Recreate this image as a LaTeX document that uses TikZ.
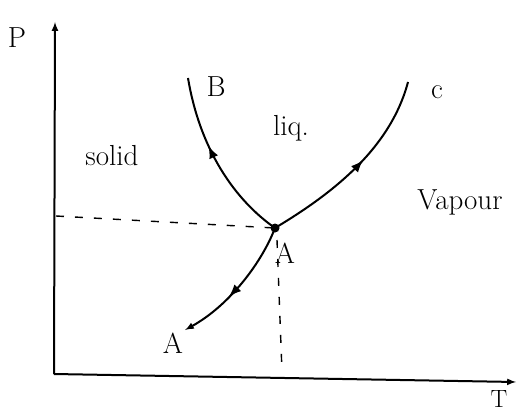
\documentclass[tikz,border=0pt]{standalone}
\usetikzlibrary{decorations.markings}
\begin{document}
\begin{tikzpicture}[x=1pt, y=-1pt, >=latex,
    axis/.style={line width=2pt},
    curve/.style={line width=2pt},
    guide/.style={line width=1.4pt, dash pattern=on 8pt off 11pt},
    midarrow/.style={postaction={decorate, decoration={markings,
        mark=at position #1 with {\arrow[scale=1.4]{latex}}}}},
    lbl/.style={font=\fontsize{29}{31}\selectfont}]
    \useasboundingbox (0,0) rectangle (532,417);

    % ==== AXES ====
    \coordinate (O) at (54,374);
    \coordinate (Ptop) at (55,22);
    \coordinate (Tend) at (516,382);
    \draw[->, axis] (O) -- (Ptop);
    \draw[->, axis] (O) -- (Tend);
    \node[lbl] (P) at (17,38) {P};
    \node[lbl, font=\fontsize{25}{27}\selectfont] (T) at (499,399) {T};

    % ==== TRIPLE POINT ====
    \coordinate (A) at (275,228);
    \fill (A) circle(4.5);
    \node[lbl] (Alab) at (285,253) {A};

    % ==== CURVES ====
    \coordinate (B) at (188,78);
    \coordinate (C) at (408,82);
    \coordinate (Alow) at (185,330);
    \draw[curve, midarrow=0.6] (A) .. controls (235,200) and (200,150) .. (B);
    \draw[curve, midarrow=0.55] (A) .. controls (330,195) and (390,150) .. (C);
    \draw[curve, ->, midarrow=0.6] (A) .. controls (262,262) and (230,305) .. (Alow);

    % ==== DASHED LINES FROM A ====
    \coordinate (Pa) at (56,216);
    \coordinate (Ta) at (282,372);
    \draw[guide] (Pa) -- (A);
    \draw[guide] (277,240) -- (Ta);

    % ==== LABELS ====
    \node[lbl] (Blab) at (216,87) {B};
    \node[lbl] (Clab) at (437,92) {c};
    \node[lbl] (liq) at (291,128) {liq.};
    \node[lbl] (solid) at (112,156) {solid};
    \node[lbl] (vap) at (460,202) {Vapour};
    \node[lbl] (Alab2) at (173,343) {A};
\end{tikzpicture}
\end{document}
